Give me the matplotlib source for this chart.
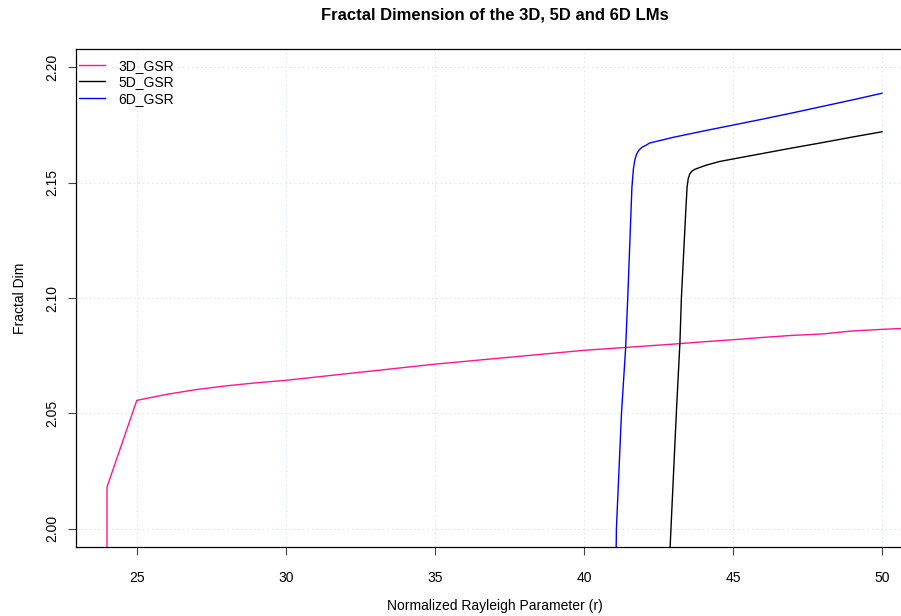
import matplotlib
matplotlib.use("Agg")
import matplotlib.pyplot as plt

plt.rcParams['font.family'] = ['Liberation Sans', 'DejaVu Sans']

# 3D_GSR
r_3d = [24.0, 24.0, 25, 26, 27, 28, 29, 30, 31, 32, 33, 34, 35, 36, 37, 38,
        39, 40, 41, 42, 43, 44, 45, 46, 47, 48, 49, 50, 51]
fd_3d = [1.95, 2.018, 2.0556, 2.0582, 2.0603, 2.0619, 2.0632, 2.0643, 2.0657,
         2.0671, 2.0685, 2.0699, 2.0713, 2.0725, 2.0737, 2.0749, 2.0761,
         2.0773, 2.0782, 2.0791, 2.0800, 2.0810, 2.0819, 2.0829, 2.0838,
         2.0844, 2.0857, 2.0864, 2.0870]

# 5D_GSR
r_5d = [42.85, 42.92, 43.10, 43.22, 43.27, 43.42, 43.46, 43.50, 43.55, 43.62,
        43.72, 43.88, 44.10, 44.55, 45.0, 46.0, 47.0, 48.0, 49.0, 50.0]
fd_5d = [1.98, 2.000, 2.050, 2.0805, 2.100, 2.1385, 2.1480, 2.1518, 2.1538,
         2.1550, 2.1558, 2.1566, 2.1576, 2.1592, 2.1603, 2.1627, 2.1651,
         2.1674, 2.1698, 2.1721]

# 6D_GSR
r_6d = [41.07, 41.09, 41.26, 41.40, 41.47, 41.61, 41.66, 41.71, 41.77, 41.85,
        41.95, 42.09, 42.20, 43.0, 44.0, 45.0, 46.0, 47.0, 48.0, 49.0, 50.0]
fd_6d = [1.98, 2.000, 2.050, 2.0785, 2.100, 2.1480, 2.1560, 2.1600, 2.1625,
         2.1642, 2.1654, 2.1663, 2.1672, 2.1697, 2.1724, 2.1750, 2.1776,
         2.1803, 2.1831, 2.1859, 2.1888]

xticks = [25, 30, 35, 40, 45, 50]
yticks = [2.00, 2.05, 2.10, 2.15, 2.20]
ytick_labels = ["2.00", "2.05", "2.10", "2.15", "2.20"]

W, H = 901, 616
fig = plt.figure(figsize=(W / 100, H / 100), dpi=100)
# plot region runs past the right edge of the picture, as in the original
ax = fig.add_axes([76 / W, 1 - 547 / H, (913 - 76) / W, (547 - 49) / H])

ax.plot(r_3d, fd_3d, color='#FF1493', lw=1.0, label='3D_GSR')
ax.plot(r_5d, fd_5d, color='black', lw=1.0, label='5D_GSR')
ax.plot(r_6d, fd_6d, color='blue', lw=1.0, label='6D_GSR')

ax.set_xlim(22.96, 51.04)
ax.set_ylim(1.992, 2.208)

ax.set_xticks(xticks)
ax.set_yticks(yticks)
ax.set_yticklabels(ytick_labels, rotation=90, va='center')
ax.tick_params(axis='both', direction='out', length=5.8, width=0.8,
               labelsize=10, color='#444444')
ax.tick_params(axis='x', pad=11.5)
ax.tick_params(axis='y', pad=6)

ax.grid(True, color='#d3ddf0', linestyle=(0, (1, 3)), lw=0.8)
ax.set_axisbelow(True)
for s in ax.spines.values():
    s.set_linewidth(0.9)
    s.set_color('black')

ax.set_xlabel("Normalized Rayleigh Parameter (r)", fontsize=10)
ax.xaxis.set_label_coords(0.5, (547 - 606) / 498)
ax.xaxis.label.set_va('center')
ax.set_ylabel("Fractal Dim", fontsize=10)
ax.yaxis.set_label_coords((20 - 76) / 837, 0.5)
ax.yaxis.label.set_va('center')

fig.text(494.5 / W, 1 - 20 / H, "Fractal Dimension of the 3D, 5D and 6D LMs",
         ha='center', va='baseline', fontsize=12, fontweight='bold')

ax.legend(loc='upper left', bbox_to_anchor=(79 / W, 1 - 59 / H),
          bbox_transform=fig.transFigure, frameon=False, fontsize=10,
          borderpad=0, borderaxespad=0, handlelength=1.87,
          handletextpad=0.94, labelspacing=0.17)

fig.savefig("out.png", dpi=100)
